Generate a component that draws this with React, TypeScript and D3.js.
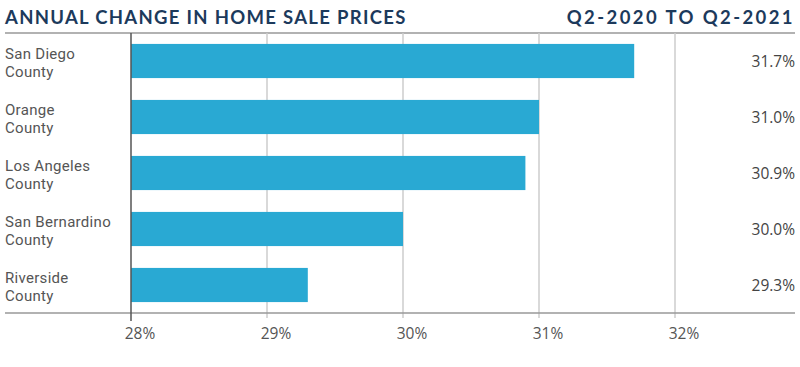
import React, { useEffect, useRef } from "react"
import * as d3 from "d3"

const counties = [
  "San Diego County",
  "Orange County",
  "Los Angeles County",
  "San Bernardino County",
  "Riverside County",
]
const countyLines = [
  ["San Diego", "County"],
  ["Orange", "County"],
  ["Los Angeles", "County"],
  ["San Bernardino", "County"],
  ["Riverside", "County"],
]
const changes = [31.7, 31.0, 30.9, 30.0, 29.3]
const ticks = [28, 29, 30, 31, 32]

const title = "ANNUAL CHANGE IN HOME SALE PRICES"
const subtitle = "Q2-2020 TO Q2-2021"

export default function App() {
  const ref = useRef<SVGSVGElement>(null)

  useEffect(() => {
    const svg = d3.select(ref.current)
    svg.selectAll("*").remove()

    const width = 800
    const height = 367
    const left = 131
    const top = 33
    const bottom = 313
    const headFont = "Lato, sans-serif"
    const font = "'Open Sans', sans-serif"
    const labelFont = "Roboto, sans-serif"

    const x = d3.scaleLinear().domain([28, 32]).range([left, 675])
    const y = d3
      .scaleBand()
      .domain(counties)
      .range([top, bottom])
      .paddingInner(0.39)
      .paddingOuter(0.195)

    svg.attr("width", width).attr("height", height)

    // header
    svg
      .append("text")
      .attr("x", 5)
      .attr("y", 24)
      .attr("fill", "#1c3a5c")
      .attr("font-family", headFont)
      .attr("font-weight", 700)
      .attr("font-size", 18.5)
      .attr("letter-spacing", 1.3)
      .text(title)
    svg
      .append("text")
      .attr("x", 795)
      .attr("y", 24)
      .attr("text-anchor", "end")
      .attr("fill", "#1c3a5c")
      .attr("font-family", headFont)
      .attr("font-weight", 700)
      .attr("font-size", 18.5)
      .attr("letter-spacing", 2.4)
      .text(subtitle)

    // frame lines
    svg
      .append("line")
      .attr("x1", 5)
      .attr("x2", 795)
      .attr("y1", top)
      .attr("y2", top)
      .attr("stroke", "#999")
      .attr("stroke-width", 1.5)

    // gridlines
    svg
      .append("g")
      .selectAll("line")
      .data(ticks.slice(1))
      .enter()
      .append("line")
      .attr("x1", d => x(d))
      .attr("x2", d => x(d))
      .attr("y1", top)
      .attr("y2", bottom + 5)
      .attr("stroke", "#ccc")
      .attr("stroke-width", 1.5)

    svg
      .append("line")
      .attr("x1", 5)
      .attr("x2", 795)
      .attr("y1", bottom)
      .attr("y2", bottom)
      .attr("stroke", "#999")
      .attr("stroke-width", 1.5)

    // bars
    svg
      .append("g")
      .selectAll("rect")
      .data(changes)
      .enter()
      .append("rect")
      .attr("x", x(28))
      .attr("y", (d, i) => y(counties[i]) as number)
      .attr("width", d => x(d) - x(28))
      .attr("height", y.bandwidth())
      .attr("fill", "#29a9d3")

    // left axis
    svg
      .append("line")
      .attr("x1", left)
      .attr("x2", left)
      .attr("y1", top)
      .attr("y2", bottom + 8)
      .attr("stroke", "#555")
      .attr("stroke-width", 1.5)

    // category labels, two lines each
    const cat = svg
      .append("g")
      .selectAll("g")
      .data(countyLines)
      .enter()
      .append("g")
      .attr("transform", (d, i) => `translate(5,${(y(counties[i]) as number) + y.bandwidth() / 2})`)
    cat
      .selectAll("text")
      .data(d => d)
      .enter()
      .append("text")
      .attr("y", (d, i) => (i === 0 ? -2 : 16))
      .attr("fill", "#555")
      .attr("font-family", labelFont)
      .attr("font-size", 15)
      .attr("letter-spacing", 0.3)
      .text(d => d)

    // value labels
    svg
      .append("g")
      .selectAll("text")
      .data(changes)
      .enter()
      .append("text")
      .attr("x", 795)
      .attr("y", (d, i) => (y(counties[i]) as number) + y.bandwidth() / 2 + 6)
      .attr("text-anchor", "end")
      .attr("fill", "#444")
      .attr("font-family", font)
      .attr("font-size", 15.5)
      .text(d => d.toFixed(1) + "%")

    // tick labels
    svg
      .append("g")
      .selectAll("text")
      .data(ticks)
      .enter()
      .append("text")
      .attr("x", d => x(d) + 9)
      .attr("y", 339)
      .attr("text-anchor", "middle")
      .attr("fill", "#555")
      .attr("font-family", font)
      .attr("font-size", 15.5)
      .text(d => d + "%")
  }, [])

  return <svg ref={ref} style={{ position: "absolute", left: 0, top: 0 }} />
}
